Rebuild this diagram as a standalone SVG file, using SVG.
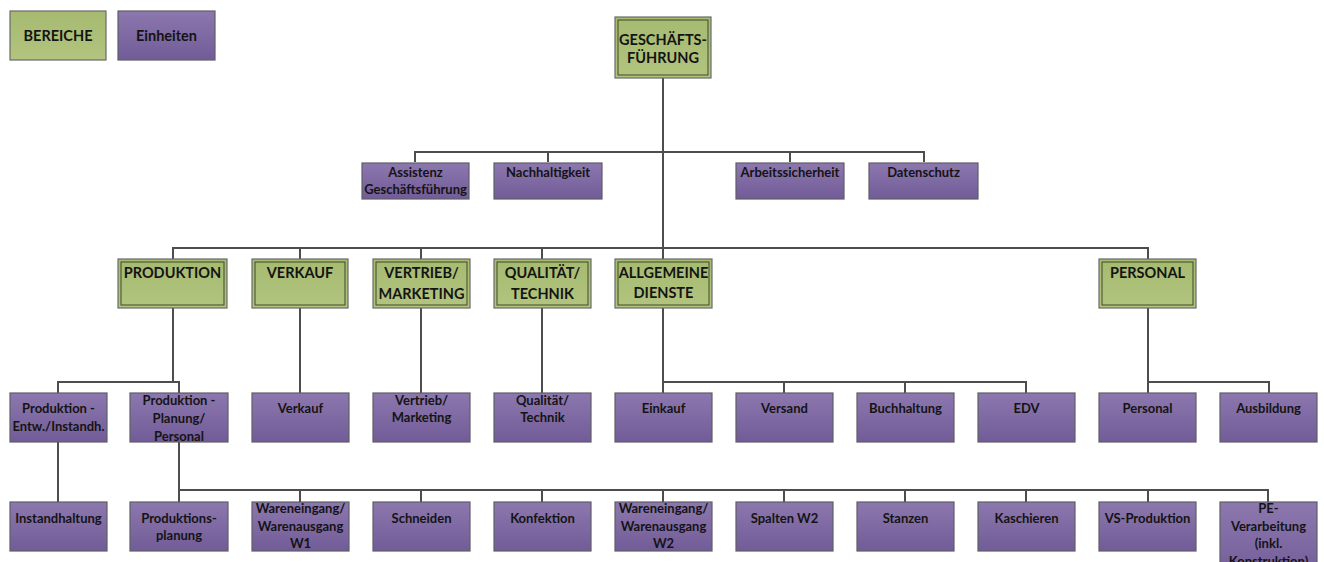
<svg xmlns="http://www.w3.org/2000/svg" width="1324" height="562" viewBox="0 0 1324 562">
<defs>
<linearGradient id="gp" x1="0" y1="0" x2="0" y2="1">
<stop offset="0" stop-color="#8c77ae"/>
<stop offset="1" stop-color="#725c98"/>
</linearGradient>
<linearGradient id="gg" x1="0" y1="0" x2="0" y2="1">
<stop offset="0" stop-color="#a6ba70"/>
<stop offset="1" stop-color="#b2c47f"/>
</linearGradient>
<style>
.u{fill:url(#gp);stroke:#5e5e66;stroke-width:1.2}
.g{fill:url(#gg);stroke:#6a6a6a;stroke-width:1.2}
.gi{fill:none;stroke:#3f4a2a;stroke-width:1}
.tu{font-family:Lato,"Liberation Sans",sans-serif;font-weight:bold;font-size:13px;fill:#141414;text-anchor:middle}
.tg{font-family:Lato,"Liberation Sans",sans-serif;font-weight:bold;font-size:14.5px;fill:#141414;text-anchor:middle}
.c{fill:none;stroke:#4d4d4d;stroke-width:2}
</style>
</defs>
<rect width="1324" height="562" fill="#ffffff"/>

<g id="connectors">
<path class="c" d="M663 78V259"/>
<path class="c" d="M415 162V152H924V162M548 152V162M790 152V162"/>
<path class="c" d="M173 259V248H1148V259M300 248V259M421 248V259M542 248V259"/>
<path class="c" d="M173 308V382M58 393V382H179V393"/>
<path class="c" d="M300 308V393M421 308V393M542 308V393"/>
<path class="c" d="M663 308V393M663 382H1026V393M784 382V393M905 382V393"/>
<path class="c" d="M1148 308V393M1148 382H1269V393"/>
<path class="c" d="M58 442V502"/>
<path class="c" d="M179 442V502M179 490H1268V502M300 490V502M421 490V502M542 490V502M663 490V502M784 490V502M905 490V502M1026 490V502M1148 490V502"/>
</g>

<g id="legend-bereiche"><rect class="g" x="10" y="11" width="96" height="49"/><text class="tg" x="58" y="41" font-size="14">BEREICHE</text></g>
<g id="legend-einheiten"><rect class="u" x="118" y="11" width="97" height="49"/><text class="tg" x="166.5" y="41" font-size="14">Einheiten</text></g>

<g id="geschaeftsfuehrung"><rect class="g" x="615" y="17" width="96" height="61"/><rect class="gi" x="618" y="20" width="90" height="55"/><text class="tg" x="663" y="45">GESCHÄFTS-</text><text class="tg" x="663" y="63">FÜHRUNG</text></g>

<g id="assistenz"><rect class="u" x="362" y="163" width="107" height="36"/><text class="tu" x="415.5" y="177">Assistenz</text><text class="tu" x="415.5" y="194">Geschäftsführung</text></g>
<g id="nachhaltigkeit"><rect class="u" x="494" y="163" width="108" height="36"/><text class="tu" x="548" y="177">Nachhaltigkeit</text></g>
<g id="arbeitssicherheit"><rect class="u" x="736" y="163" width="108" height="36"/><text class="tu" x="790" y="177">Arbeitssicherheit</text></g>
<g id="datenschutz"><rect class="u" x="869" y="163" width="109" height="36"/><text class="tu" x="923.5" y="177">Datenschutz</text></g>

<g id="produktion"><rect class="g" x="118" y="259" width="109" height="49"/><rect class="gi" x="121" y="262" width="103" height="43"/><text class="tg" x="172.5" y="278">PRODUKTION</text></g>
<g id="verkauf"><rect class="g" x="252" y="259" width="96" height="49"/><rect class="gi" x="255" y="262" width="90" height="43"/><text class="tg" x="300" y="278">VERKAUF</text></g>
<g id="vertrieb"><rect class="g" x="373" y="259" width="97" height="49"/><rect class="gi" x="376" y="262" width="91" height="43"/><text class="tg" x="421.5" y="278">VERTRIEB/</text><text class="tg" x="421.5" y="299">MARKETING</text></g>
<g id="qualitaet"><rect class="g" x="494" y="259" width="97" height="49"/><rect class="gi" x="497" y="262" width="91" height="43"/><text class="tg" x="542.5" y="278">QUALITÄT/</text><text class="tg" x="542.5" y="299">TECHNIK</text></g>
<g id="allgemeine-dienste"><rect class="g" x="615" y="259" width="97" height="49"/><rect class="gi" x="618" y="262" width="91" height="43"/><text class="tg" x="663.5" y="278">ALLGEMEINE</text><text class="tg" x="663.5" y="298">DIENSTE</text></g>
<g id="personal-bereich"><rect class="g" x="1099" y="259" width="97" height="49"/><rect class="gi" x="1102" y="262" width="91" height="43"/><text class="tg" x="1147.5" y="278">PERSONAL</text></g>

<g id="produktion-entw"><rect class="u" x="10" y="393" width="97" height="49"/><text class="tu" x="58.5" y="413">Produktion -</text><text class="tu" x="58.5" y="431">Entw./Instandh.</text></g>
<g id="produktion-planung"><rect class="u" x="130" y="393" width="98" height="49"/><text class="tu" x="179" y="405">Produktion -</text><text class="tu" x="179" y="423">Planung/</text><text class="tu" x="179" y="441">Personal</text></g>
<g id="verkauf-unit"><rect class="u" x="252" y="393" width="97" height="49"/><text class="tu" x="300.5" y="413">Verkauf</text></g>
<g id="vertrieb-unit"><rect class="u" x="373" y="393" width="97" height="49"/><text class="tu" x="421.5" y="405">Vertrieb/</text><text class="tu" x="421.5" y="422">Marketing</text></g>
<g id="qualitaet-unit"><rect class="u" x="494" y="393" width="97" height="49"/><text class="tu" x="542.5" y="405">Qualität/</text><text class="tu" x="542.5" y="422">Technik</text></g>
<g id="einkauf"><rect class="u" x="615" y="393" width="97" height="49"/><text class="tu" x="663.5" y="413">Einkauf</text></g>
<g id="versand"><rect class="u" x="736" y="393" width="97" height="49"/><text class="tu" x="784.5" y="413">Versand</text></g>
<g id="buchhaltung"><rect class="u" x="857" y="393" width="97" height="49"/><text class="tu" x="905.5" y="413">Buchhaltung</text></g>
<g id="edv"><rect class="u" x="978" y="393" width="97" height="49"/><text class="tu" x="1026.5" y="413">EDV</text></g>
<g id="personal-unit"><rect class="u" x="1099" y="393" width="97" height="49"/><text class="tu" x="1147.5" y="413">Personal</text></g>
<g id="ausbildung"><rect class="u" x="1220" y="393" width="97" height="49"/><text class="tu" x="1268.5" y="413">Ausbildung</text></g>

<g id="instandhaltung"><rect class="u" x="10" y="502" width="97" height="49"/><text class="tu" x="58.5" y="523">Instandhaltung</text></g>
<g id="produktionsplanung"><rect class="u" x="130" y="502" width="98" height="49"/><text class="tu" x="179" y="523">Produktions-</text><text class="tu" x="179" y="540">planung</text></g>
<g id="waren-w1"><rect class="u" x="252" y="502" width="97" height="49"/><text class="tu" x="300.5" y="513">Wareneingang/</text><text class="tu" x="300.5" y="531">Warenausgang</text><text class="tu" x="300.5" y="548">W1</text></g>
<g id="schneiden"><rect class="u" x="373" y="502" width="97" height="49"/><text class="tu" x="421.5" y="523">Schneiden</text></g>
<g id="konfektion"><rect class="u" x="494" y="502" width="97" height="49"/><text class="tu" x="542.5" y="523">Konfektion</text></g>
<g id="waren-w2"><rect class="u" x="615" y="502" width="97" height="49"/><text class="tu" x="663.5" y="513">Wareneingang/</text><text class="tu" x="663.5" y="531">Warenausgang</text><text class="tu" x="663.5" y="548">W2</text></g>
<g id="spalten"><rect class="u" x="736" y="502" width="97" height="49"/><text class="tu" x="784.5" y="523">Spalten W2</text></g>
<g id="stanzen"><rect class="u" x="857" y="502" width="97" height="49"/><text class="tu" x="905.5" y="523">Stanzen</text></g>
<g id="kaschieren"><rect class="u" x="978" y="502" width="97" height="49"/><text class="tu" x="1026.5" y="523">Kaschieren</text></g>
<g id="vs-produktion"><rect class="u" x="1099" y="502" width="97" height="49"/><text class="tu" x="1147.5" y="523">VS-Produktion</text></g>
<g id="pe-verarbeitung"><rect class="u" x="1220" y="502" width="97" height="80"/><text class="tu" x="1268.5" y="513">PE-</text><text class="tu" x="1268.5" y="531">Verarbeitung</text><text class="tu" x="1268.5" y="548">(inkl.</text><text class="tu" x="1268.5" y="566">Konstruktion)</text></g>
</svg>
